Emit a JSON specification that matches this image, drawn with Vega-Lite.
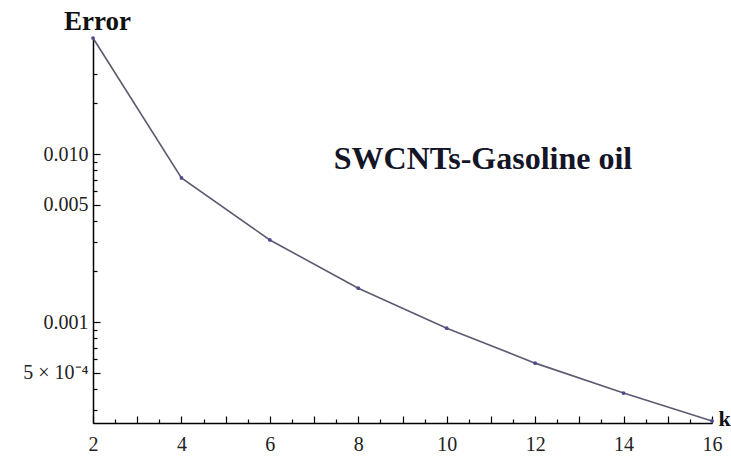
{
  "$schema": "https://vega.github.io/schema/vega-lite/v6.json",
  "width": 619,
  "height": 385,
  "autosize": "none",
  "padding": {"left": 93, "top": 38, "right": 19, "bottom": 34},
  "background": "white",
  "config": {"view": {"stroke": null}},
  "data": {"values": [
    {"k": 2, "error": 0.049},
    {"k": 4, "error": 0.0072},
    {"k": 6, "error": 0.00308},
    {"k": 8, "error": 0.00159},
    {"k": 10, "error": 0.00092},
    {"k": 12, "error": 0.00057},
    {"k": 14, "error": 0.000378},
    {"k": 16, "error": 0.000258}
  ]},
  "encoding": {
    "x": {
      "field": "k", "type": "quantitative",
      "scale": {"domain": [2, 16], "nice": false, "zero": false},
      "axis": {
        "title": "k", "titleFont": "Liberation Serif", "titleFontSize": 22, "titleFontWeight": "bold", "titleColor": "#111",
        "titleAngle": 0, "titleAlign": "left", "titleBaseline": "alphabetic", "titleX": 625, "titleY": 2,
        "values": [2,2.5,3,3.5,4,4.5,5,5.5,6,6.5,7,7.5,8,8.5,9,9.5,10,10.5,11,11.5,12,12.5,13,13.5,14,14.5,15,15.5,16],
        "labelExpr": "datum.value % 2 == 0 ? format(datum.value, 'd') : ''",
        "labelFont": "Liberation Serif", "labelFontSize": 20, "labelColor": "#222", "labelPadding": 18,
        "labelFlush": false, "labelOverlap": false,
        "domainColor": "#000", "domainWidth": 1.5, "tickColor": "#000", "tickWidth": 1.2,
        "tickSize": {"condition": {"test": "datum.value % 1 == 0", "value": -7}, "value": -4},
        "grid": false
      }
    },
    "y": {
      "field": "error", "type": "quantitative",
      "scale": {"type": "log", "domain": [0.000251, 0.049], "nice": false},
      "axis": {
        "title": "Error", "titleFont": "Liberation Serif", "titleFontSize": 27, "titleFontWeight": "bold", "titleColor": "#111",
        "titleAngle": 0, "titleAlign": "center", "titleBaseline": "alphabetic", "titleX": 4, "titleY": -9,
        "values": [0.03,0.02,0.01,0.009,0.008,0.007,0.006,0.005,0.004,0.003,0.002,0.001,0.0009,0.0008,0.0007,0.0006,0.0005,0.0004,0.0003],
        "labelExpr": "datum.value == 0.01 ? '0.010' : datum.value == 0.005 ? '0.005' : datum.value == 0.001 ? '0.001' : datum.value == 0.0005 ? '5 × 10⁻⁴' : ''",
        "labelFont": "Liberation Serif", "labelFontSize": 20, "labelColor": "#222", "labelPadding": 12,
        "labelFlush": false, "labelOverlap": false,
        "domainColor": "#000", "domainWidth": 1.5, "tickColor": "#000", "tickWidth": 1.2,
        "tickSize": {"condition": {"test": "datum.value == 0.01 || datum.value == 0.005 || datum.value == 0.001 || datum.value == 0.0005", "value": -7}, "value": -4},
        "grid": false
      }
    }
  },
  "layer": [
    {"mark": {"type": "line", "color": "#5b5b70", "strokeWidth": 1.6}},
    {"mark": {"type": "point", "filled": true, "color": "#4a4a90", "size": 14, "opacity": 1}},
    {
      "data": {"values": [{"k": 10.82, "error": 0.0094, "label": "SWCNTs-Gasoline oil"}]},
      "mark": {"type": "text", "font": "Liberation Serif", "fontSize": 32, "fontWeight": "bold", "color": "#151528", "align": "center", "baseline": "middle"},
      "encoding": {"text": {"field": "label"}}
    }
  ]
}
